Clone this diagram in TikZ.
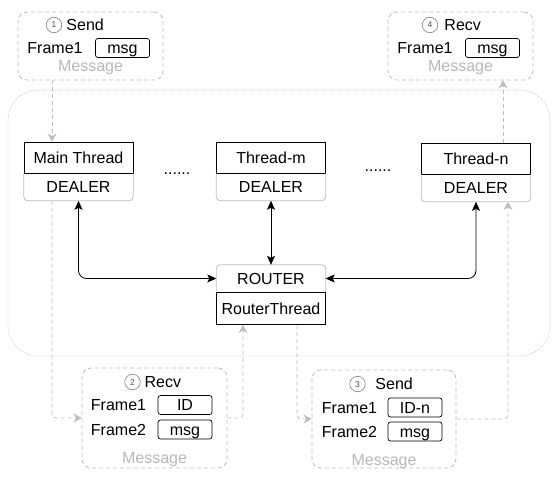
\documentclass[tikz,border=0pt]{standalone}
\usepackage{fontspec}
\setmainfont{Liberation Sans}
\usepackage{tikz}
\usetikzlibrary{positioning}
\usetikzlibrary{arrows.meta}
\definecolor{flowgray}{HTML}{BDBDBD}
\definecolor{framegray}{HTML}{C8C8C8}
\definecolor{textgray}{HTML}{B8B8B8}
\tikzset{
	threadbox/.style={draw, line width=0.8pt, minimum width=109pt, minimum height=31pt, inner sep=0pt},
	sockbox/.style={minimum width=109pt, minimum height=27pt, inner sep=0pt},
	procbox/.style={draw=framegray, line width=0.8pt, dash pattern=on 0.8pt off 1.2pt, rounded corners=30pt},
	msgbox/.style={draw=flowgray, line width=0.8pt, dash pattern=on 4pt off 3pt, rounded corners=9pt},
	field/.style={draw, line width=0.7pt, rounded corners=2.5pt, minimum width=54pt, minimum height=19pt, inner sep=0pt},
	num/.style={circle, draw=gray, line width=0.6pt, minimum size=15.5pt, inner sep=0pt, font=\fontsize{8.5}{8.5}\selectfont, text=black!70, text height=6pt, text depth=0pt},
	flow/.style={draw=flowgray, line width=0.8pt, dash pattern=on 4pt off 3pt, rounded corners=4pt, -{Stealth[length=8pt,width=9pt,inset=2.5pt]}},
	link/.style={line width=0.8pt, rounded corners=8pt, {Stealth[length=9pt,width=8pt,inset=2pt]}-{Stealth[length=9pt,width=8pt,inset=2pt]}},
	sockline/.style={draw=flowgray, line width=0.8pt, rounded corners=4pt}
}
\begin{document}
\begin{tikzpicture}[x=1pt, y=1pt, every node/.style={font=\fontsize{16}{19}\selectfont, text height=11.5pt, text depth=0pt}]
	\useasboundingbox (0,0) rectangle (557,480);
	\node (proc) [procbox, minimum width=542pt, minimum height=266pt] at (279,257) {};
	\node (mainthr) [threadbox] at (78.5,322.5) {Main Thread};
	\node (maindeal) [sockbox, below=0pt of mainthr] {DEALER};
	\node (mthr) [threadbox] at (271,322.5) {Thread-m};
	\node (mdeal) [sockbox, below=0pt of mthr] {DEALER};
	\node (nthr) [threadbox] at (476,321.5) {Thread-n};
	\node (ndeal) [sockbox, below=0pt of nthr] {DEALER};
	\node (dotsA) at (177,311) {......}; \node (dotsB) at (378,314) {......};
	\node (router) [sockbox] at (271,201.5) {ROUTER};
	\node (rthread) [threadbox, below=0pt of router, minimum height=32pt] {RouterThread};
	\foreach \s in {maindeal, mdeal, ndeal} \draw[sockline] (\s.north west) -- (\s.south west) -- (\s.south east) -- (\s.north east);
	\draw[sockline] (router.south west) -- (router.north west) -- (router.north east) -- (router.south east);

	\node (sendA) [msgbox, minimum width=145pt, minimum height=68pt] at (90.5,434) {};
	\node (sendAno) [num] at ([shift={(-36.5,21)}]sendA.center) {1};
	\node (sendAtitle) [right=0.9pt of sendAno] {Send};
	\node (sendAf1) at ([shift={(-35.5,-2)}]sendA.center) {Frame1};
	\node (sendAmsg) [field] at ([shift={(32,-2)}]sendA.center) {msg};
	\node (sendAlbl) [text=textgray] at ([shift={(0,-20)}]sendA.center) {Message};

	\node (recvB) [msgbox, minimum width=145pt, minimum height=100pt] at (154.5,62) {};
	\node (recvBno) [num] at ([shift={(-22,36)}]recvB.center) {2};
	\node (recvBtitle) [right=0.5pt of recvBno] {Recv};
	\node (recvBf1) at ([shift={(-36,13)}]recvB.center) {Frame1};
	\node (recvBid) [field] at ([shift={(30.5,13)}]recvB.center) {ID};
	\node (recvBf2) at ([shift={(-36,-11.5)}]recvB.center) {Frame2};
	\node (recvBmsg) [field] at ([shift={(30.5,-11.5)}]recvB.center) {msg};
	\node (recvBlbl) [text=textgray] at ([shift={(0,-40)}]recvB.center) {Message};

	\node (sendC) [msgbox, minimum width=144pt, minimum height=98pt] at (384,61) {};
	\node (sendCno) [num] at ([shift={(-26.5,35)}]sendC.center) {3};
	\node (sendCtitle) [right=6.4pt of sendCno] {Send};
	\node (sendCf1) at ([shift={(-34.5,11.5)}]sendC.center) {Frame1};
	\node (sendCid) [field] at ([shift={(31,11.5)}]sendC.center) {ID-n};
	\node (sendCf2) at ([shift={(-34.5,-12.5)}]sendC.center) {Frame2};
	\node (sendCmsg) [field] at ([shift={(31,-12.5)}]sendC.center) {msg};
	\node (sendClbl) [text=textgray] at ([shift={(0,-41)}]sendC.center) {Message};

	\node (recvD) [msgbox, minimum width=145pt, minimum height=68pt] at (460.5,434) {};
	\node (recvDno) [num] at ([shift={(-30.5,21)}]recvD.center) {4};
	\node (recvDtitle) [right=2.9pt of recvDno] {Recv};
	\node (recvDf1) at ([shift={(-35.5,-2)}]recvD.center) {Frame1};
	\node (recvDmsg) [field] at ([shift={(32,-2)}]recvD.center) {msg};
	\node (recvDlbl) [text=textgray] at ([shift={(0,-20)}]recvD.center) {Message};

	\coordinate (mainin) at ([xshift=-26.5pt]mainthr.north);
	\coordinate (nout) at ([xshift=27pt]nthr.north);
	\draw[flow] (mainin |- sendA.south) -- (mainin);
	\draw[flow] ([xshift=-26.5pt]maindeal.south) |- (recvB.west);
	\draw[flow] (recvB.east) -| ([xshift=-28pt]rthread.south);
	\draw[flow] ([xshift=26pt]rthread.south) |- (sendC.west);
	\draw[flow] (sendC.east) -| ([xshift=32pt]ndeal.south);
	\draw[flow] (nout) -- (nout |- recvD.south);

	\draw[link] (maindeal.south) |- (router.west);
	\draw[link] (mdeal.south) -- (router.north);
	\draw[link] (ndeal.south) |- (router.east);
\end{tikzpicture}
\end{document}
